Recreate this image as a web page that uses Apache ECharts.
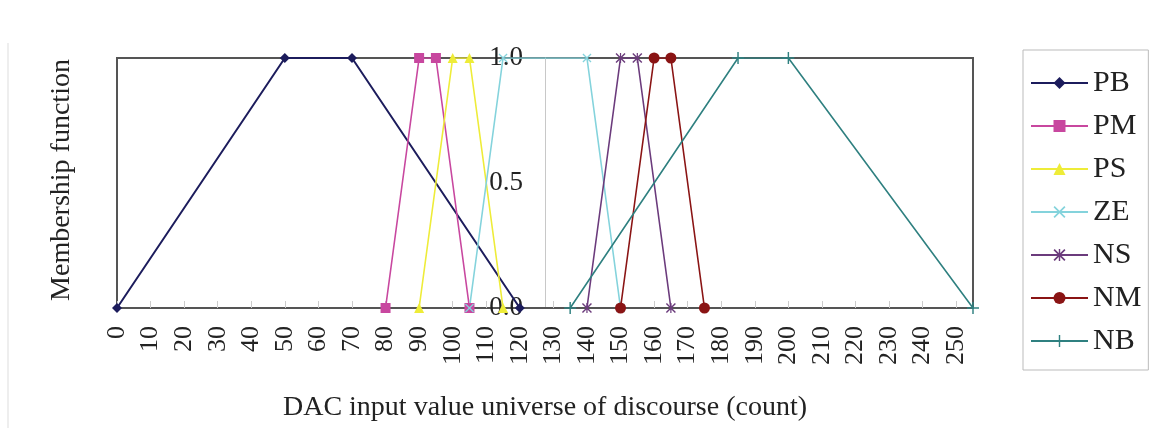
<!DOCTYPE html>
<html>
<head>
<meta charset="utf-8">
<script src="https://cdn.jsdelivr.net/npm/echarts@6/dist/echarts.min.js"></script>
<style>
  html, body { margin: 0; padding: 0; background: #fff; }
  #container { width: 1159px; height: 428px; }
</style>
</head>
<body>
<div id="container"></div>
<script>
// membership functions, [DAC count, membership]
var names = ['PB', 'PM', 'PS', 'ZE', 'NS', 'NM', 'NB'];
var PB = [[0, 0], [50, 1], [70, 1], [120, 0]];
var PM = [[80, 0], [90, 1], [95, 1], [105, 0]];
var PS = [[90, 0], [100, 1], [105, 1], [115, 0]];
var ZE = [[105, 0], [115, 1], [140, 1], [150, 0]];
var NS = [[140, 0], [150, 1], [155, 1], [165, 0]];
var NM = [[150, 0], [160, 1], [165, 1], [175, 0]];
var NB = [[135, 0], [185, 1], [200, 1], [255, 0]];
var seriesData = [PB, PM, PS, ZE, NS, NM, NB];

var colors = ['#1c1c5c', '#c8479f', '#eeec38', '#84d3dc', '#6b3b7c', '#8a1414', '#2f8080'];

// marker shapes (excel style)
var crossX = 'path://M0,1L1,0L5,4L9,0L10,1L6,5L10,9L9,10L5,6L1,10L0,9L4,5Z';
var plus = 'path://M4.4,0H5.6V4.4H10V5.6H5.6V10H4.4V5.6H0V4.4H4.4Z';
var star = 'path://M0,1L1,0L5,4L9,0L10,1L6,5L10,9L9,10L5,6L1,10L0,9L4,5Z M4.4,0H5.6V10H4.4Z';
var symbols = ['diamond', 'rect', 'triangle', crossX, star, 'circle', plus];
var symbolSizes = [10, 10, 10, 9, 10, 11, 12];

var font = 'Liberation Serif';

var dom = document.getElementById('container');
var myChart = echarts.init(dom, null, { renderer: 'canvas' });

var series = names.map(function (n, i) {
    return {
        name: n,
        type: 'line',
        data: seriesData[i],
        symbol: symbols[i],
        symbolSize: symbolSizes[i],
        showAllSymbol: true,
        animation: false,
        lineStyle: { color: colors[i], width: i == 0 ? 2 : 1.6 },
        itemStyle: { color: colors[i] }
    };
});

var option = {
    backgroundColor: '#fff',
    textStyle: { fontFamily: font },
    grid: {
        left: 117, right: 186, top: 58, bottom: 120,
        show: true, borderColor: '#555', borderWidth: 2
    },
    xAxis: {
        type: 'value',
        min: 0, max: 255, interval: 10,
        name: 'DAC input value universe of discourse (count)',
        nameLocation: 'middle',
        nameGap: 86,
        nameTextStyle: { fontFamily: font, fontSize: 28, color: '#222' },
        axisLine: { lineStyle: { color: '#555', width: 2 } },
        axisTick: { inside: true, length: 7, lineStyle: { color: '#ccc' } },
        axisLabel: { rotate: 90, margin: 18, fontFamily: font, fontSize: 26, color: '#222' },
        splitLine: { show: false }
    },
    yAxis: {
        type: 'value',
        min: 0, max: 1, interval: 0.5,
        offset: -428,
        axisLine: { show: true, lineStyle: { color: '#c8c8c8', width: 1 } },
        axisTick: { show: false },
        axisLabel: {
            margin: 22, fontFamily: font, fontSize: 27, color: '#222',
            formatter: function (v) { return v.toFixed(1); }
        },
        splitLine: { show: false }
    },
    legend: {
        orient: 'vertical',
        left: 1023, top: 50,
        padding: [18, 7, 14, 7],
        itemGap: 13,
        itemWidth: 57,
        itemHeight: 15,
        borderColor: '#bbb',
        borderWidth: 1,
        textStyle: { fontFamily: font, fontSize: 30, color: '#222', lineHeight: 30 },
        data: names
    },
    graphic: [
        {
            type: 'text',
            x: 62, y: 180,
            rotation: Math.PI / 2,
            style: {
                text: 'Membership function',
                fontFamily: font, fontSize: 28, fill: '#222',
                align: 'center', verticalAlign: 'middle'
            }
        },
        {
            type: 'line',
            shape: { x1: 8, y1: 43, x2: 8, y2: 428 },
            style: { stroke: '#ddd', lineWidth: 1 }
        }
    ],
    series: series
};

myChart.setOption(option);
window.addEventListener('resize', myChart.resize);
</script>
</body>
</html>
